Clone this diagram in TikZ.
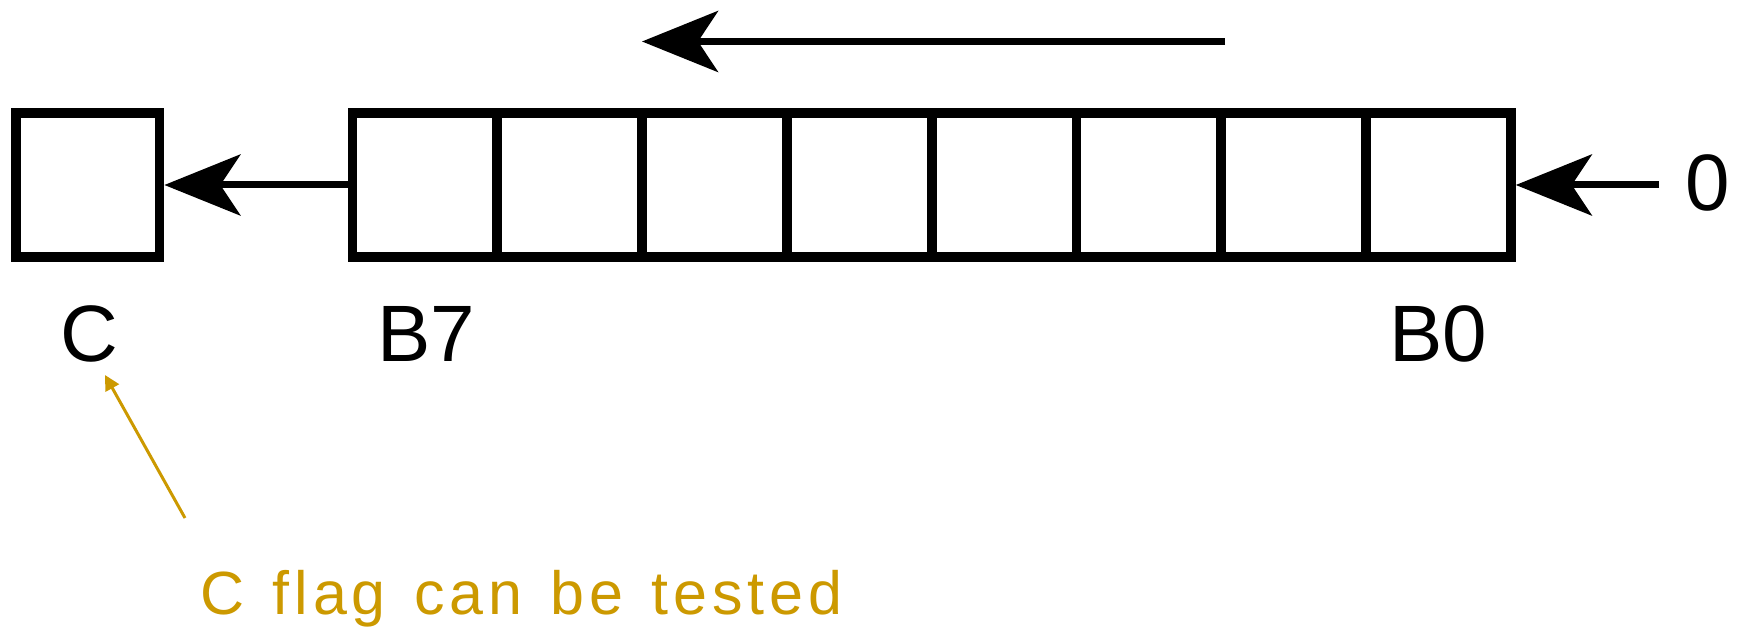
\documentclass[tikz,border=0pt]{standalone}
\usepackage{fontspec}
\setmainfont{Liberation Sans}
\newfontfamily\notefont[LetterSpace=8,WordSpace=1.3]{Liberation Sans}
\usetikzlibrary{arrows.meta}
\definecolor{gold}{RGB}{204,153,0}
\begin{document}
\begin{tikzpicture}[x=0.5pt,y=-0.5pt,
  cell/.style={draw, line width=4.9pt, minimum width=72.4pt, minimum height=72pt, inner sep=0pt},
  cflag/.style={draw, line width=4.9pt, minimum width=71.75pt, minimum height=72pt, inner sep=0pt},
  shiftarr/.style={line width=3.5pt, -{Stealth[length=38pt,width=30.5pt,inset=10pt]}},
  lbl/.style={font=\fontsize{40pt}{40pt}\selectfont, inner sep=0pt},
  note/.style={font=\notefont\fontsize{30.5pt}{30.5pt}\selectfont, text=gold, inner sep=0pt},
  notearr/.style={draw=gold, line width=1.5pt, -{Triangle[length=7.5pt,width=7.5pt]}},
]
\useasboundingbox (0,0) rectangle (1743,630);
\node[cflag] (cbox) at (87.75,185) {};
\foreach \i in {0,...,7} {
  \pgfmathtruncatemacro{\b}{7-\i}
  \node[cell] (b\b) at ({352.5+144.8*(\i+0.5)},185) {};
}
\node[lbl, anchor=base] (clbl) at (89,361) {C};
\node[lbl, anchor=base west] (b7lbl) at (377,361) {B7};
\node[lbl, anchor=base west] (b0lbl) at (1389,361) {B0};
\node[lbl, anchor=base] (zero) at (1708,210.5) {0};
\coordinate (topR) at (1225,41.5);
\coordinate (topL) at (642,41.5);
\draw[shiftarr] (topR) -- (topL);
\draw[shiftarr] (b7.west) -- (cbox.east);
\coordinate (zin) at (1659,185);
\draw[shiftarr] (zin) -- (b0.east);
\coordinate (ntail) at (185,518);
\coordinate (nhead) at (105,375);
\draw[notearr] (ntail) -- (nhead);
\node[note, anchor=base west] (note) at (200,614) {C flag can be tested};
\end{tikzpicture}
\end{document}
